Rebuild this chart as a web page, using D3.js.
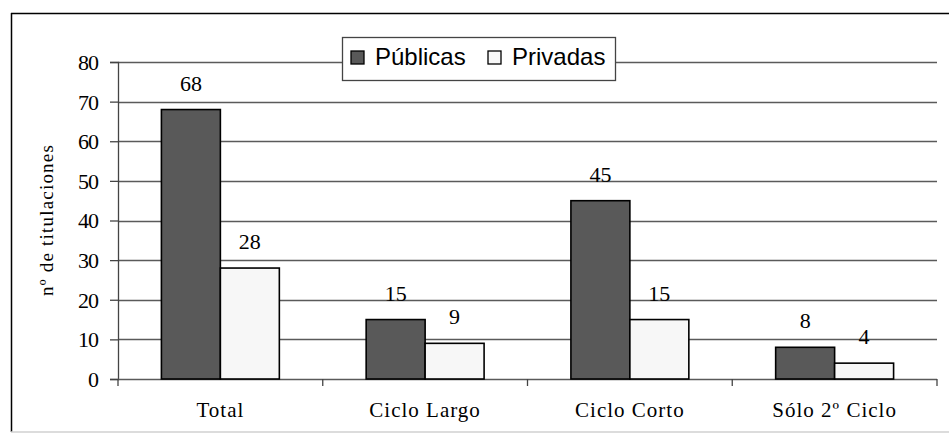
<!DOCTYPE html>
<html>
<head>
<meta charset="utf-8">
<script src="https://cdn.jsdelivr.net/npm/d3@7"></script>
<style>
  html, body { margin: 0; padding: 0; background: #fff; }
  svg { display: block; }
  .serif { font-family: "Liberation Serif", "Times New Roman", Times, serif; }
  .sans { font-family: "Liberation Sans", Arial, Helvetica, sans-serif; }
</style>
</head>
<body>
<svg id="chart" width="949" height="433"></svg>
<script>
const categories = ["Total", "Ciclo Largo", "Ciclo Corto", "Sólo 2º Ciclo"];
const seriesNames = ["Públicas", "Privadas"];
const publicas = [68, 15, 45, 8];
const privadas = [28, 9, 15, 4];
const yTicks = [0, 10, 20, 30, 40, 50, 60, 70, 80];
const yTitle = "nº de titulaciones";

const colors = ["#595959", "#f7f7f7"];
const svg = d3.select("#chart");

// outer frame
svg.append("line").attr("x1", 11).attr("x2", 949).attr("y1", 13.5).attr("y2", 13.5)
  .attr("stroke", "#000").attr("stroke-width", 1.5);
svg.append("line").attr("x1", 11.5).attr("x2", 11.5).attr("y1", 13).attr("y2", 432)
  .attr("stroke", "#000").attr("stroke-width", 1.5);
svg.append("line").attr("x1", 11).attr("x2", 949).attr("y1", 432).attr("y2", 432)
  .attr("stroke", "#d0d0d0").attr("stroke-width", 1.5);

const plot = { left: 118, right: 937, top: 62, bottom: 379 };

const y = d3.scaleLinear().domain([0, 80]).range([plot.bottom, plot.top]);
const x0 = d3.scaleBand().domain(categories).range([plot.left, plot.right])
  .paddingInner(0.424).paddingOuter(0.212);
const x1 = d3.scaleBand().domain(seriesNames).range([0, x0.bandwidth()]);

// gridlines
svg.append("g").selectAll("line").data(yTicks.filter(d => d > 0)).join("line")
  .attr("x1", plot.left).attr("x2", plot.right)
  .attr("y1", d => Math.round(y(d)) + 0.5).attr("y2", d => Math.round(y(d)) + 0.5)
  .attr("stroke", "#5a5a5a").attr("stroke-width", 1.3);

// y axis
const yAxis = svg.append("g").attr("transform", `translate(${plot.left},0)`)
  .call(d3.axisLeft(y).tickValues(yTicks).tickSize(8).tickPadding(12).tickFormat(d3.format("d")));
yAxis.attr("font-family", null).attr("font-size", null);
yAxis.select(".domain").attr("stroke", "#444").attr("stroke-width", 1.3);
yAxis.selectAll(".tick line").attr("stroke", "#444").attr("stroke-width", 1.3);
yAxis.selectAll(".tick text").attr("class", "serif")
  .style("font-size", "22px").attr("fill", "#000").attr("letter-spacing", -1).attr("dy", "0.34em");

// x axis
const xEdges = [plot.left].concat(categories.map(c => x0(c) + x0.bandwidth() / 2 + x0.step() / 2));
const xAxisG = svg.append("g");
xAxisG.append("line").attr("x1", plot.left).attr("x2", plot.right)
  .attr("y1", plot.bottom + 0.5).attr("y2", plot.bottom + 0.5)
  .attr("stroke", "#5a5a5a").attr("stroke-width", 1.3);
xAxisG.selectAll("line.tk").data(xEdges).join("line").attr("class", "tk")
  .attr("x1", d => d).attr("x2", d => d).attr("y1", plot.bottom).attr("y2", plot.bottom + 7)
  .attr("stroke", "#444").attr("stroke-width", 1.3);
xAxisG.selectAll("text").data(categories).join("text")
  .attr("class", "serif")
  .attr("x", d => x0(d) + x0.bandwidth() / 2).attr("y", 417)
  .attr("text-anchor", "middle")
  .style("font-size", "21px").attr("letter-spacing", 1).attr("fill", "#000")
  .text(d => d);

// y title
svg.append("text")
  .attr("class", "serif")
  .attr("transform", `translate(53,220) rotate(-90)`)
  .attr("text-anchor", "middle")
  .style("font-size", "19px").attr("letter-spacing", 1.2).attr("fill", "#000")
  .text(yTitle);

// bars
const rows = categories.map((c, i) => ({ cat: c, vals: [publicas[i], privadas[i]] }));
const groups = svg.append("g").selectAll("g").data(rows).join("g")
  .attr("transform", d => `translate(${x0(d.cat)},0)`);
groups.selectAll("rect").data(d => d.vals.map((v, j) => ({ s: seriesNames[j], v, j }))).join("rect")
  .attr("x", d => x1(d.s)).attr("width", x1.bandwidth())
  .attr("y", d => y(d.v)).attr("height", d => y(0) - y(d.v))
  .attr("fill", d => colors[d.j]).attr("stroke", "#000").attr("stroke-width", 1.6);
groups.selectAll("text").data(d => d.vals.map((v, j) => ({ s: seriesNames[j], v, j }))).join("text")
  .attr("class", "serif")
  .attr("x", d => x1(d.s) + x1.bandwidth() / 2).attr("y", d => y(d.v) - 19)
  .attr("text-anchor", "middle")
  .style("font-size", "22px").attr("fill", "#000")
  .text(d => d.v);

// legend
const lg = svg.append("g");
lg.append("rect").attr("x", 342.5).attr("y", 37.5).attr("width", 273).attr("height", 43)
  .attr("fill", "#fff").attr("stroke", "#444").attr("stroke-width", 1.3);
const legendX = [351, 488];
seriesNames.forEach((s, i) => {
  lg.append("rect").attr("x", legendX[i]).attr("y", 51).attr("width", 13).attr("height", 13)
    .attr("fill", colors[i]).attr("stroke", "#000").attr("stroke-width", 1.3);
  lg.append("text").attr("class", "sans").attr("x", legendX[i] + 24).attr("y", 65)
    .style("font-size", "24px").attr("fill", "#000").text(s);
});
</script>
</body>
</html>
